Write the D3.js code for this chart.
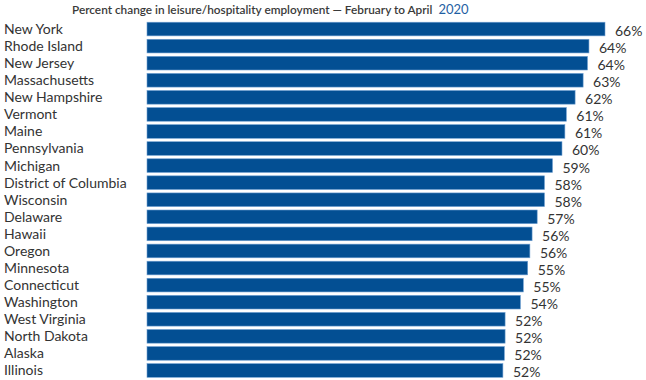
<!DOCTYPE html>
<html><head><meta charset="utf-8">
<script src="https://cdn.jsdelivr.net/npm/d3@7"></script>
<style>
body{margin:0;background:#fff;}
svg{display:block;font-family:Lato,"Open Sans",sans-serif;}
</style></head><body>
<svg id="chart" width="646" height="380"></svg>
<script>
const states = ["New York","Rhode Island","New Jersey","Massachusetts","New Hampshire","Vermont","Maine","Pennsylvania","Michigan","District of Columbia","Wisconsin","Delaware","Hawaii","Oregon","Minnesota","Connecticut","Washington","West Virginia","North Dakota","Alaska","Illinois"];
const values = [66.0,63.8,63.6,63.0,61.9,60.7,60.5,60.1,58.8,57.7,57.7,56.7,56.0,55.7,55.4,54.8,54.4,52.3,52.3,52.2,52.0];
const titleMain = "Percent change in leisure/hospitality employment — February to April";
const titleYear = "2020";

const svg = d3.select("#chart");
const x = d3.scaleLinear().domain([3.2, 66]).range([147, 605]);
const y = d3.scaleBand().domain(states).range([20.5, 379]).paddingInner(0.2).paddingOuter(0.1);

const t = svg.append("text").attr("x", 72).attr("y", 14).attr("text-anchor","start")
  .style("font-size","11.8px").style("font-weight","600").attr("fill","#3a3a3a");
t.append("tspan").text(titleMain);
t.append("tspan").attr("dx", 6).attr("fill","#1f5fa3").style("font-weight","400").style("font-size","13px").text(titleYear);

const data = states.map((s,i)=>({s, v: values[i]}));
svg.selectAll("rect.bar").data(data).join("rect").attr("class","bar")
  .attr("x", x(3.2)).attr("y", d=>y(d.s)).attr("width", d=>x(d.v)-x(3.2)).attr("height", y.bandwidth())
  .attr("fill","#034f93").attr("stroke","#6f9fd1").attr("stroke-width",0.6);

svg.selectAll("text.cat").data(data).join("text").attr("class","cat")
  .attr("x", 4).attr("y", d=>y(d.s)+y.bandwidth()/2).attr("dy","0.35em")
  .style("font-size","14px").attr("fill","#333").text(d=>d.s);

svg.selectAll("text.val").data(data).join("text").attr("class","val")
  .attr("x", d=>x(d.v)+10).attr("y", d=>y(d.s)+y.bandwidth()/2+2).attr("dy","0.35em")
  .style("font-size","14px").attr("fill","#333").text(d=>Math.round(d.v)+"%");
</script></body></html>
